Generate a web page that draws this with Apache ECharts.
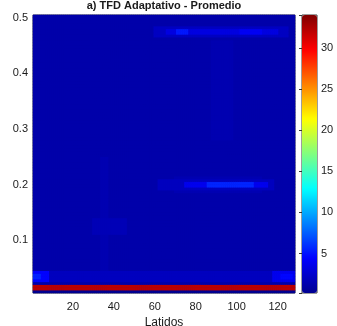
<!DOCTYPE html>
<html>
<head>
<meta charset="utf-8">
<script src="https://cdn.jsdelivr.net/npm/echarts@6/dist/echarts.min.js"></script>
<style>
html,body{margin:0;padding:0;background:#fff;}
#grafico{width:337px;height:326px;}
</style>
</head>
<body>
<div id="grafico"></div>
<script>
// ejes
var latidos = [];
for (var i = 1; i <= 128; i++) latidos.push(String(i));
var pasoCiclo = 0.005;
var ciclos = [];
for (var k = 0; k < 100; k++) ciclos.push((0.0075 + k * pasoCiclo).toFixed(4));

var escalaMin = 0.2, escalaMax = 34;
var fondo = 1.2;

// zonas (ciclo desde/hasta, latido desde/hasta, valor)
var cicloDesde  = [0.005, 0.010, 0.025, 0.025, 0.030, 0.025, 0.030, 0.045, 0.110, 0.185, 0.190, 0.195, 0.195, 0.280, 0.465, 0.470, 0.470, 0.470];
var cicloHasta  = [0.010, 0.020, 0.045, 0.045, 0.040, 0.045, 0.040, 0.250, 0.140, 0.215, 0.210, 0.205, 0.205, 0.460, 0.485, 0.480, 0.480, 0.480];
var latidoDesde = [1,     1,     1,     1,     1,     118,   122,   34,    30,    70,    62,    75,    86,    88,    60,    66,    71,    102];
var latidoHasta = [128,   128,   128,   8,     4,     128,   127,   37,    46,    112,   118,   115,   108,   98,    125,   120,   76,    112];
var valorZona   = [0.2,   32,    2.0,   4.5,   5.5,   3.8,   4.6,   1.5,   1.7,   1.5,   2.0,   3.8,   5.6,   1.45,  2.1,   3.3,   5.2,   4.0];

var datos = [];
for (var x = 0; x < latidos.length; x++) {
  for (var y = 0; y < ciclos.length; y++) {
    var c = parseFloat(ciclos[y]);
    var v = fondo;
    for (var z = 0; z < valorZona.length; z++) {
      if (c > cicloDesde[z] && c < cicloHasta[z] && (x + 1) >= latidoDesde[z] && (x + 1) <= latidoHasta[z]) {
        v = valorZona[z];
      }
    }
    datos.push([x, y, v]);
  }
}

var fuente = 'Liberation Sans';
var grafico = echarts.init(document.getElementById('grafico'));
var option = {
  animation: false,
  textStyle: {fontFamily: fuente},
  title: {
    text: 'a) TFD Adaptativo - Promedio',
    left: 164, top: 0, padding: 0, textAlign: 'center',
    textStyle: {fontFamily: fuente, fontSize: 11, fontWeight: 'bold', color: '#1a1a1a'}
  },
  grid: [
    {left: 33, top: 15, width: 262, height: 278, show: true, backgroundColor: '#0000aa', borderColor: '#3a3a3a', borderWidth: 1, outerBoundsMode: 'none'},
    {left: 302, top: 15, width: 15, height: 278, show: true, borderColor: '#3a3a3a', borderWidth: 1, outerBoundsMode: 'none'}
  ],
  xAxis: [
    {
      type: 'category', gridIndex: 0, data: latidos,
      name: 'Latidos', nameLocation: 'middle', nameGap: 18,
      nameTextStyle: {fontSize: 12, color: '#1a1a1a'},
      axisLine: {show: false},
      axisTick: {inside: true, length: 3, alignWithLabel: true, lineStyle: {color: '#555'},
        interval: function (i, v) { return Number(v) % 20 === 0; }},
      axisLabel: {fontSize: 11, color: '#1a1a1a', margin: 8,
        interval: function (i, v) { return Number(v) % 20 === 0; }},
      splitLine: {show: false}
    },
    {type: 'value', gridIndex: 1, show: false, min: 0, max: 1}
  ],
  yAxis: [
    {type: 'category', gridIndex: 0, data: ciclos, show: false, position: 'left'},
    {
      type: 'value', gridIndex: 0, position: 'left', min: 0.005, max: 0.505,
      name: 'Ciclo/Latido', nameLocation: 'middle', nameGap: 21, nameRotate: 90,
      nameTextStyle: {fontSize: 12, color: '#1a1a1a'},
      axisLine: {show: false},
      axisTick: {inside: true, length: 3, lineStyle: {color: '#555'}},
      axisLabel: {fontSize: 11, color: '#1a1a1a', margin: 5,
        formatter: function (v) { var r = Math.round(v * 10) / 10; return Math.abs(v - r) < 1e-6 ? r.toFixed(1) : ''; }},
      splitLine: {show: false}
    },
    {
      type: 'value', gridIndex: 1, position: 'right', min: escalaMin, max: escalaMax,
      axisLine: {show: false},
      axisTick: {inside: true, length: 3, lineStyle: {color: '#333'}},
      axisLabel: {fontSize: 11, color: '#1a1a1a', margin: 4,
        formatter: function (v) { return (v % 5 === 0) ? String(v) : ''; }},
      splitLine: {show: false}
    }
  ],
  visualMap: {
    type: 'continuous', seriesIndex: 0, min: escalaMin, max: escalaMax,
    calculable: false, orient: 'vertical', left: 302, top: 15, padding: 0,
    itemWidth: 15, itemHeight: 278, text: null, showLabel: false,
    inRange: {color: ['#000090', '#0000ff', '#0080ff', '#00ffff', '#80ff80', '#ffff00', '#ff8000', '#ff0000', '#800000']}
  },
  series: [{
    type: 'heatmap', xAxisIndex: 0, yAxisIndex: 0, data: datos,
    progressive: 0, emphasis: {disabled: true}
  }]
};
grafico.setOption(option);
</script>
</body>
</html>
